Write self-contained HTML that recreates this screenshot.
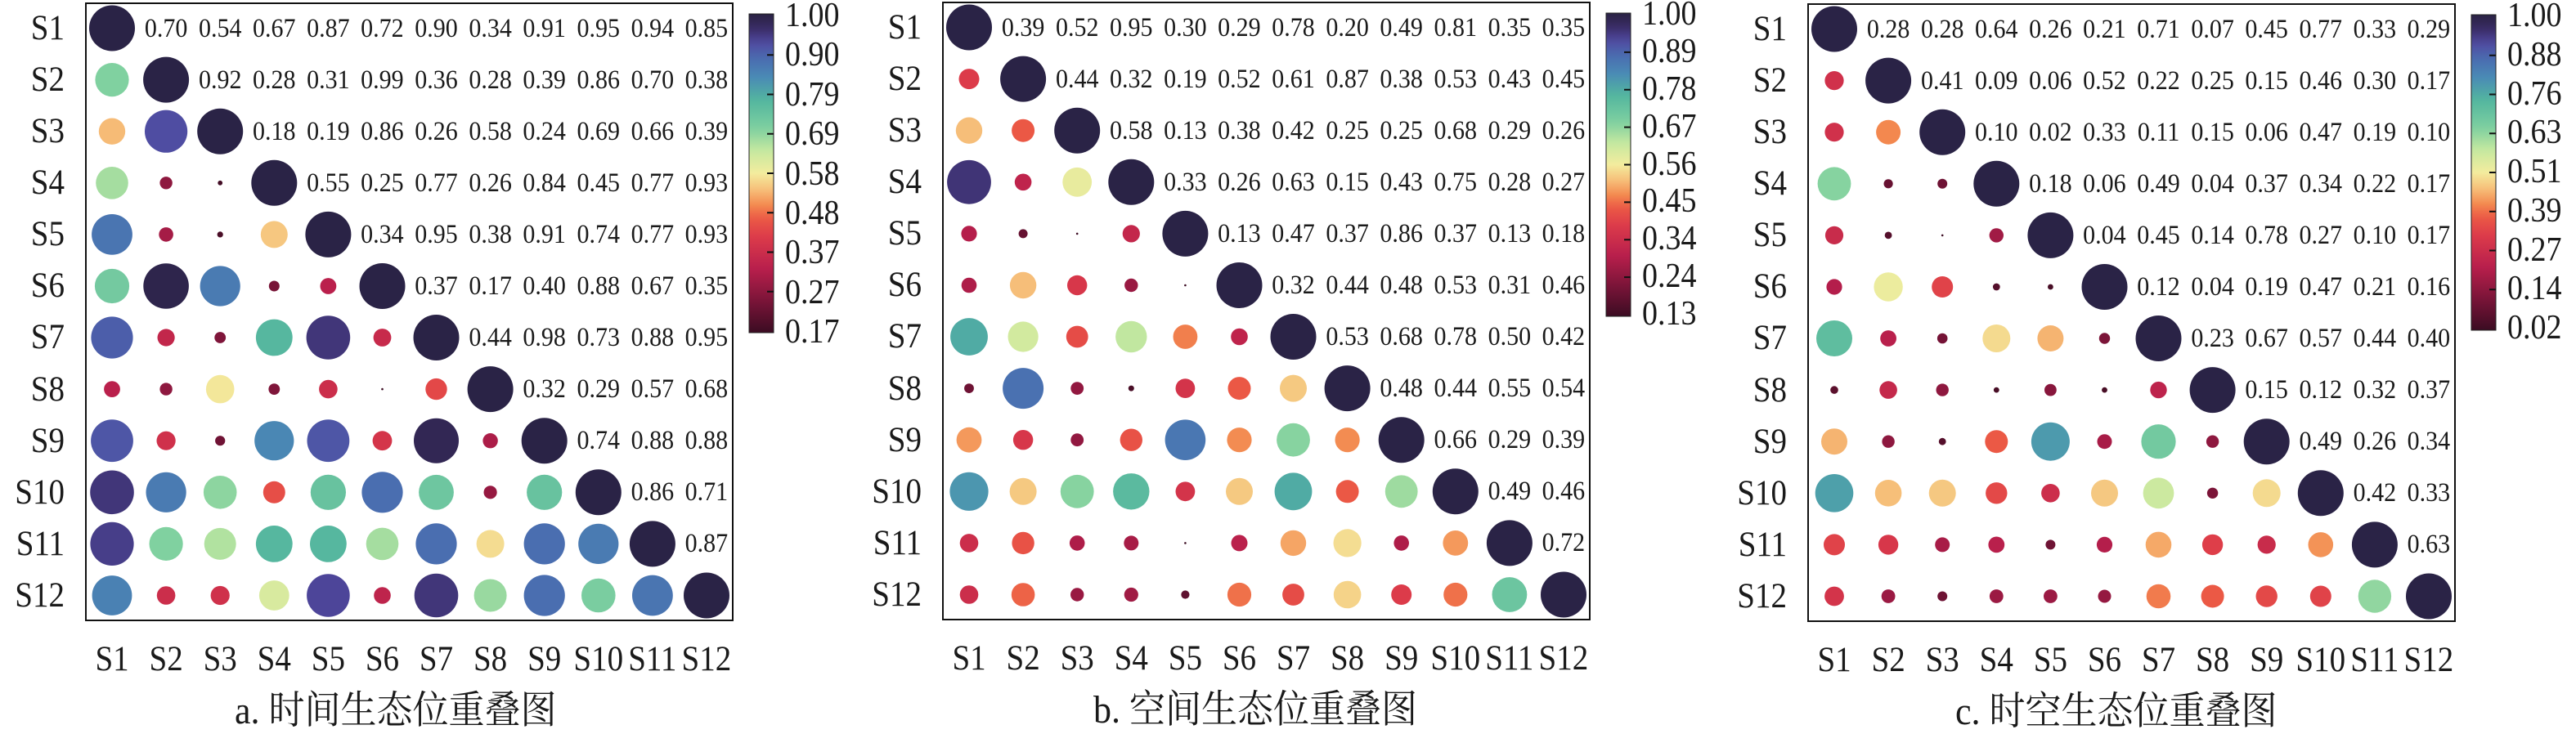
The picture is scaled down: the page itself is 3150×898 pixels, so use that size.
<!DOCTYPE html>
<html><head><meta charset="utf-8">
<style>
body{margin:0;width:3150px;height:893px;background:#fff;position:relative;overflow:hidden;font-family:"Liberation Serif","Noto Serif CJK SC",serif;color:#1a1a1a}
.pn{position:absolute;width:793px;height:757px}
.box{position:absolute;left:0;top:0;width:793px;height:757px;box-sizing:border-box;border:2.5px solid #111}
svg.c{position:absolute;left:0;top:0;overflow:visible}
.r{position:absolute;display:flex;height:63.08px;align-items:center;font-size:30px}
.r span{width:66.08px;text-align:center;flex:none;display:inline-block;transform:scaleY(1.1)}
.r0{top:0;left:66.08px}.r1{top:63.08px;left:132.16px}.r2{top:126.16px;left:198.24px}.r3{top:189.24px;left:264.32px}
.r4{top:252.32px;left:330.4px}.r5{top:315.4px;left:396.48px}.r6{top:378.48px;left:462.56px}.r7{top:441.56px;left:528.64px}
.r8{top:504.64px;left:594.72px}.r9{top:567.72px;left:660.8px}.r10{top:630.8px;left:726.88px}
.yl{position:absolute;left:-125px;top:0;width:100px;display:flex;flex-direction:column;font-size:39px}
.yl div{height:63.08px;line-height:63.08px;text-align:right;transform:scaleY(1.1);transform-origin:right center}
.xl{position:absolute;left:0;top:774px;display:flex;font-size:39px;height:60px;line-height:60px}
.xl div{width:66.08px;text-align:center;white-space:nowrap;flex:none;transform:scaleY(1.1)}
.cap{position:absolute;top:842px;font-size:44px;white-space:nowrap;line-height:50px;transform:scaleY(1.08)}
.tk{position:absolute;left:856px;display:flex;flex-direction:column;font-size:38px}
.tk div{text-align:left;transform:scaleY(1.1);transform-origin:left center}
</style></head><body>

<!-- Panel a -->
<div class="pn" id="pa" style="left:104px;top:3px">
<div class="box"></div>
<div class="r r0"><span>0.70</span><span>0.54</span><span>0.67</span><span>0.87</span><span>0.72</span><span>0.90</span><span>0.34</span><span>0.91</span><span>0.95</span><span>0.94</span><span>0.85</span></div>
<div class="r r1"><span>0.92</span><span>0.28</span><span>0.31</span><span>0.99</span><span>0.36</span><span>0.28</span><span>0.39</span><span>0.86</span><span>0.70</span><span>0.38</span></div>
<div class="r r2"><span>0.18</span><span>0.19</span><span>0.86</span><span>0.26</span><span>0.58</span><span>0.24</span><span>0.69</span><span>0.66</span><span>0.39</span></div>
<div class="r r3"><span>0.55</span><span>0.25</span><span>0.77</span><span>0.26</span><span>0.84</span><span>0.45</span><span>0.77</span><span>0.93</span></div>
<div class="r r4"><span>0.34</span><span>0.95</span><span>0.38</span><span>0.91</span><span>0.74</span><span>0.77</span><span>0.93</span></div>
<div class="r r5"><span>0.37</span><span>0.17</span><span>0.40</span><span>0.88</span><span>0.67</span><span>0.35</span></div>
<div class="r r6"><span>0.44</span><span>0.98</span><span>0.73</span><span>0.88</span><span>0.95</span></div>
<div class="r r7"><span>0.32</span><span>0.29</span><span>0.57</span><span>0.68</span></div>
<div class="r r8"><span>0.74</span><span>0.88</span><span>0.88</span></div>
<div class="r r9"><span>0.86</span><span>0.71</span></div>
<div class="r r10"><span>0.87</span></div>
<div class="yl"><div>S1</div><div>S2</div><div>S3</div><div>S4</div><div>S5</div><div>S6</div><div>S7</div><div>S8</div><div>S9</div><div>S10</div><div>S11</div><div>S12</div></div>
<div class="xl"><div>S1</div><div>S2</div><div>S3</div><div>S4</div><div>S5</div><div>S6</div><div>S7</div><div>S8</div><div>S9</div><div>S10</div><div>S11</div><div>S12</div></div>
<div class="cap" style="left:183px">a. 时间生态位重叠图</div>
<div class="tk" style="top:-8px"><div style="height:48.4px;line-height:48.4px">1.00</div><div style="height:48.4px;line-height:48.4px">0.90</div><div style="height:48.4px;line-height:48.4px">0.79</div><div style="height:48.4px;line-height:48.4px">0.69</div><div style="height:48.4px;line-height:48.4px">0.58</div><div style="height:48.4px;line-height:48.4px">0.48</div><div style="height:48.4px;line-height:48.4px">0.37</div><div style="height:48.4px;line-height:48.4px">0.27</div><div style="height:48.4px;line-height:48.4px">0.17</div></div>
</div>

<!-- Panel b -->
<div class="pn" id="pb" style="left:1152px;top:2px">
<div class="box"></div>
<div class="r r0"><span>0.39</span><span>0.52</span><span>0.95</span><span>0.30</span><span>0.29</span><span>0.78</span><span>0.20</span><span>0.49</span><span>0.81</span><span>0.35</span><span>0.35</span></div>
<div class="r r1"><span>0.44</span><span>0.32</span><span>0.19</span><span>0.52</span><span>0.61</span><span>0.87</span><span>0.38</span><span>0.53</span><span>0.43</span><span>0.45</span></div>
<div class="r r2"><span>0.58</span><span>0.13</span><span>0.38</span><span>0.42</span><span>0.25</span><span>0.25</span><span>0.68</span><span>0.29</span><span>0.26</span></div>
<div class="r r3"><span>0.33</span><span>0.26</span><span>0.63</span><span>0.15</span><span>0.43</span><span>0.75</span><span>0.28</span><span>0.27</span></div>
<div class="r r4"><span>0.13</span><span>0.47</span><span>0.37</span><span>0.86</span><span>0.37</span><span>0.13</span><span>0.18</span></div>
<div class="r r5"><span>0.32</span><span>0.44</span><span>0.48</span><span>0.53</span><span>0.31</span><span>0.46</span></div>
<div class="r r6"><span>0.53</span><span>0.68</span><span>0.78</span><span>0.50</span><span>0.42</span></div>
<div class="r r7"><span>0.48</span><span>0.44</span><span>0.55</span><span>0.54</span></div>
<div class="r r8"><span>0.66</span><span>0.29</span><span>0.39</span></div>
<div class="r r9"><span>0.49</span><span>0.46</span></div>
<div class="r r10"><span>0.72</span></div>
<div class="yl"><div>S1</div><div>S2</div><div>S3</div><div>S4</div><div>S5</div><div>S6</div><div>S7</div><div>S8</div><div>S9</div><div>S10</div><div>S11</div><div>S12</div></div>
<div class="xl"><div>S1</div><div>S2</div><div>S3</div><div>S4</div><div>S5</div><div>S6</div><div>S7</div><div>S8</div><div>S9</div><div>S10</div><div>S11</div><div>S12</div></div>
<div class="cap" style="left:185px">b. 空间生态位重叠图</div>
<div class="tk" style="top:-7px"><div style="height:45.9px;line-height:45.9px">1.00</div><div style="height:45.9px;line-height:45.9px">0.89</div><div style="height:45.9px;line-height:45.9px">0.78</div><div style="height:45.9px;line-height:45.9px">0.67</div><div style="height:45.9px;line-height:45.9px">0.56</div><div style="height:45.9px;line-height:45.9px">0.45</div><div style="height:45.9px;line-height:45.9px">0.34</div><div style="height:45.9px;line-height:45.9px">0.24</div><div style="height:45.9px;line-height:45.9px">0.13</div></div>
</div>

<!-- Panel c -->
<div class="pn" id="pc" style="left:2210px;top:4px">
<div class="box"></div>
<div class="r r0"><span>0.28</span><span>0.28</span><span>0.64</span><span>0.26</span><span>0.21</span><span>0.71</span><span>0.07</span><span>0.45</span><span>0.77</span><span>0.33</span><span>0.29</span></div>
<div class="r r1"><span>0.41</span><span>0.09</span><span>0.06</span><span>0.52</span><span>0.22</span><span>0.25</span><span>0.15</span><span>0.46</span><span>0.30</span><span>0.17</span></div>
<div class="r r2"><span>0.10</span><span>0.02</span><span>0.33</span><span>0.11</span><span>0.15</span><span>0.06</span><span>0.47</span><span>0.19</span><span>0.10</span></div>
<div class="r r3"><span>0.18</span><span>0.06</span><span>0.49</span><span>0.04</span><span>0.37</span><span>0.34</span><span>0.22</span><span>0.17</span></div>
<div class="r r4"><span>0.04</span><span>0.45</span><span>0.14</span><span>0.78</span><span>0.27</span><span>0.10</span><span>0.17</span></div>
<div class="r r5"><span>0.12</span><span>0.04</span><span>0.19</span><span>0.47</span><span>0.21</span><span>0.16</span></div>
<div class="r r6"><span>0.23</span><span>0.67</span><span>0.57</span><span>0.44</span><span>0.40</span></div>
<div class="r r7"><span>0.15</span><span>0.12</span><span>0.32</span><span>0.37</span></div>
<div class="r r8"><span>0.49</span><span>0.26</span><span>0.34</span></div>
<div class="r r9"><span>0.42</span><span>0.33</span></div>
<div class="r r10"><span>0.63</span></div>
<div class="yl"><div>S1</div><div>S2</div><div>S3</div><div>S4</div><div>S5</div><div>S6</div><div>S7</div><div>S8</div><div>S9</div><div>S10</div><div>S11</div><div>S12</div></div>
<div class="xl"><div>S1</div><div>S2</div><div>S3</div><div>S4</div><div>S5</div><div>S6</div><div>S7</div><div>S8</div><div>S9</div><div>S10</div><div>S11</div><div>S12</div></div>
<div class="cap" style="left:181px">c. 时空生态位重叠图</div>
<div class="tk" style="top:-8px"><div style="height:47.75px;line-height:47.75px">1.00</div><div style="height:47.75px;line-height:47.75px">0.88</div><div style="height:47.75px;line-height:47.75px">0.76</div><div style="height:47.75px;line-height:47.75px">0.63</div><div style="height:47.75px;line-height:47.75px">0.51</div><div style="height:47.75px;line-height:47.75px">0.39</div><div style="height:47.75px;line-height:47.75px">0.27</div><div style="height:47.75px;line-height:47.75px">0.14</div><div style="height:47.75px;line-height:47.75px">0.02</div></div>
</div>

<script>
var stops=[[0,'#3b0c22'],[.1,'#7a1438'],[.2,'#b81f4c'],[.3,'#dc3b4a'],[.36,'#ec5a45'],[.4,'#f38a50'],[.45,'#f6c07a'],[.5,'#f3ec9e'],[.57,'#c6e9a0'],[.64,'#7fd0a0'],[.73,'#52b59f'],[.8,'#4a8bb5'],[.86,'#4a6cb0'],[.91,'#5049a0'],[.96,'#37295f'],[1,'#2a2344']];
function h2r(h){return[parseInt(h.substr(1,2),16),parseInt(h.substr(3,2),16),parseInt(h.substr(5,2),16)];}
function col(t){t=Math.max(0,Math.min(1,t));for(var i=1;i<stops.length;i++){if(t<=stops[i][0]){var a=stops[i-1],b=stops[i],f=(t-a[0])/(b[0]-a[0]),A=h2r(a[1]),B=h2r(b[1]);return 'rgb('+[0,1,2].map(function(k){return Math.round(A[k]+(B[k]-A[k])*f)}).join(',')+')';}}return stops[stops.length-1][1];}
var P=[
{id:'pa',min:.17,cbh:390,ov:{'11,3':.62},up:[[.70,.54,.67,.87,.72,.90,.34,.91,.95,.94,.85],[.92,.28,.31,.99,.36,.28,.39,.86,.70,.38],[.18,.19,.86,.26,.58,.24,.69,.66,.39],[.55,.25,.77,.26,.84,.45,.77,.93],[.34,.95,.38,.91,.74,.77,.93],[.37,.17,.40,.88,.67,.35],[.44,.98,.73,.88,.95],[.32,.29,.57,.68],[.74,.88,.88],[.86,.71],[.87]]},
{id:'pb',min:.13,cbh:371,ov:{},up:[[.39,.52,.95,.30,.29,.78,.20,.49,.81,.35,.35],[.44,.32,.19,.52,.61,.87,.38,.53,.43,.45],[.58,.13,.38,.42,.25,.25,.68,.29,.26],[.33,.26,.63,.15,.43,.75,.28,.27],[.13,.47,.37,.86,.37,.13,.18],[.32,.44,.48,.53,.31,.46],[.53,.68,.78,.50,.42],[.48,.44,.55,.54],[.66,.29,.39],[.49,.46],[.72]]},
{id:'pc',min:.02,cbh:386,ov:{},up:[[.28,.28,.64,.26,.21,.71,.07,.45,.77,.33,.29],[.41,.09,.06,.52,.22,.25,.15,.46,.30,.17],[.10,.02,.33,.11,.15,.06,.47,.19,.10],[.18,.06,.49,.04,.37,.34,.22,.17],[.04,.45,.14,.78,.27,.10,.17],[.12,.04,.19,.47,.21,.16],[.23,.67,.57,.44,.40],[.15,.12,.32,.37],[.49,.26,.34],[.42,.33],[.63]]}];
var NS='http://www.w3.org/2000/svg',W=793/12,H=757/12;
P.forEach(function(p){
 var s='<svg class="c" xmlns="'+NS+'" width="793" height="757"><defs><linearGradient id="g'+p.id+'" x1="0" y1="1" x2="0" y2="0">';
 for(var k=0;k<=40;k++){s+='<stop offset="'+(k/40)+'" stop-color="'+col(k/40)+'"/>';}
 s+='</linearGradient></defs>';
 for(var i=0;i<12;i++)for(var j=0;j<=i;j++){
  var cx=(j+.5)*W,cy=(i+.5)*H,d,c;
  if(i==j){d=56;c='#2a2346';}
  else{var v=p.up[j][i-j-1];if(p.ov[i+','+j]!==undefined)v=p.ov[i+','+j];var t=(v-p.min)/(1-p.min);d=t<=0.005?2.5:4+52*Math.pow(t,.75);c=col(t);}
  s+='<circle cx="'+cx.toFixed(1)+'" cy="'+cy.toFixed(1)+'" r="'+(d/2).toFixed(1)+'" fill="'+c+'"/>';
 }
 var x=812,y=14,h=p.cbh;
 s+='<rect x="'+x+'" y="'+y+'" width="30" height="'+h+'" fill="url(#g'+p.id+')" stroke="#222" stroke-width="1"/>';
 for(var k=1;k<8;k++){var ty=y+2+k*(h-4)/8;s+='<line x1="'+(x+22)+'" x2="'+(x+30)+'" y1="'+ty+'" y2="'+ty+'" stroke="#111" stroke-width="2"/>';}
 s+='</svg>';
 document.getElementById(p.id).insertAdjacentHTML('afterbegin',s);
});
</script>
</body></html>
